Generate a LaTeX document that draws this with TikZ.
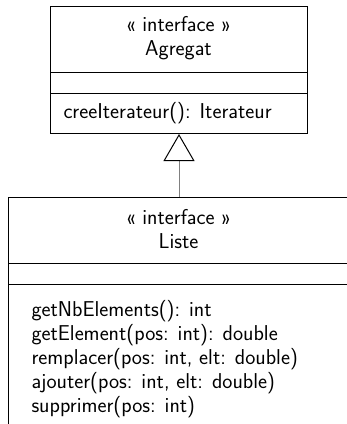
\documentclass[tikz,border=0pt]{standalone}
\usepackage{fontspec}
\usetikzlibrary{arrows.meta}
\begin{document}
\begin{tikzpicture}[x=1pt,y=-1pt, line width=1pt,
  umlbox/.style={draw, rectangle, inner sep=0pt, anchor=north west},
  txt/.style={font=\sffamily\fontsize{21.5}{24}\selectfont, inner sep=0pt},
  generalisation/.style={draw=gray, -{Triangle[open, length=27pt, width=31pt, color=black]}}]
\useasboundingbox (0,0) rectangle (347,424);
\clip (0,0) rectangle (347,424);
\fill[white] (0,0) rectangle (347,424);
% Agregat
\node[umlbox, minimum width=257pt, minimum height=127pt] (agregat) at (50,6) {};
\draw (50,72) -- (307,72);
\draw (50,93) -- (307,93);
\node[txt, align=center] (agname) at (178.5,38) {« interface »\\Agregat};
\node[txt, anchor=west] (agmeth) at (63,113) {creeIterateur(): Iterateur};
% Liste
\node[umlbox, minimum width=341pt, minimum height=232pt] (liste) at (8,197) {};
\draw (8,263) -- (349,263);
\draw (8,284) -- (349,284);
\node[txt, align=center] (liname) at (178.5,229.5) {« interface »\\Liste};
\node[txt, anchor=west, align=left] (limeth) at (31,359) {getNbElements(): int\\getElement(pos: int): double\\remplacer(pos: int, elt: double)\\ajouter(pos: int, elt: double)\\supprimer(pos: int)};
% generalisation
\draw[generalisation] (liste.north) -- (agregat.south);
\end{tikzpicture}
\end{document}
